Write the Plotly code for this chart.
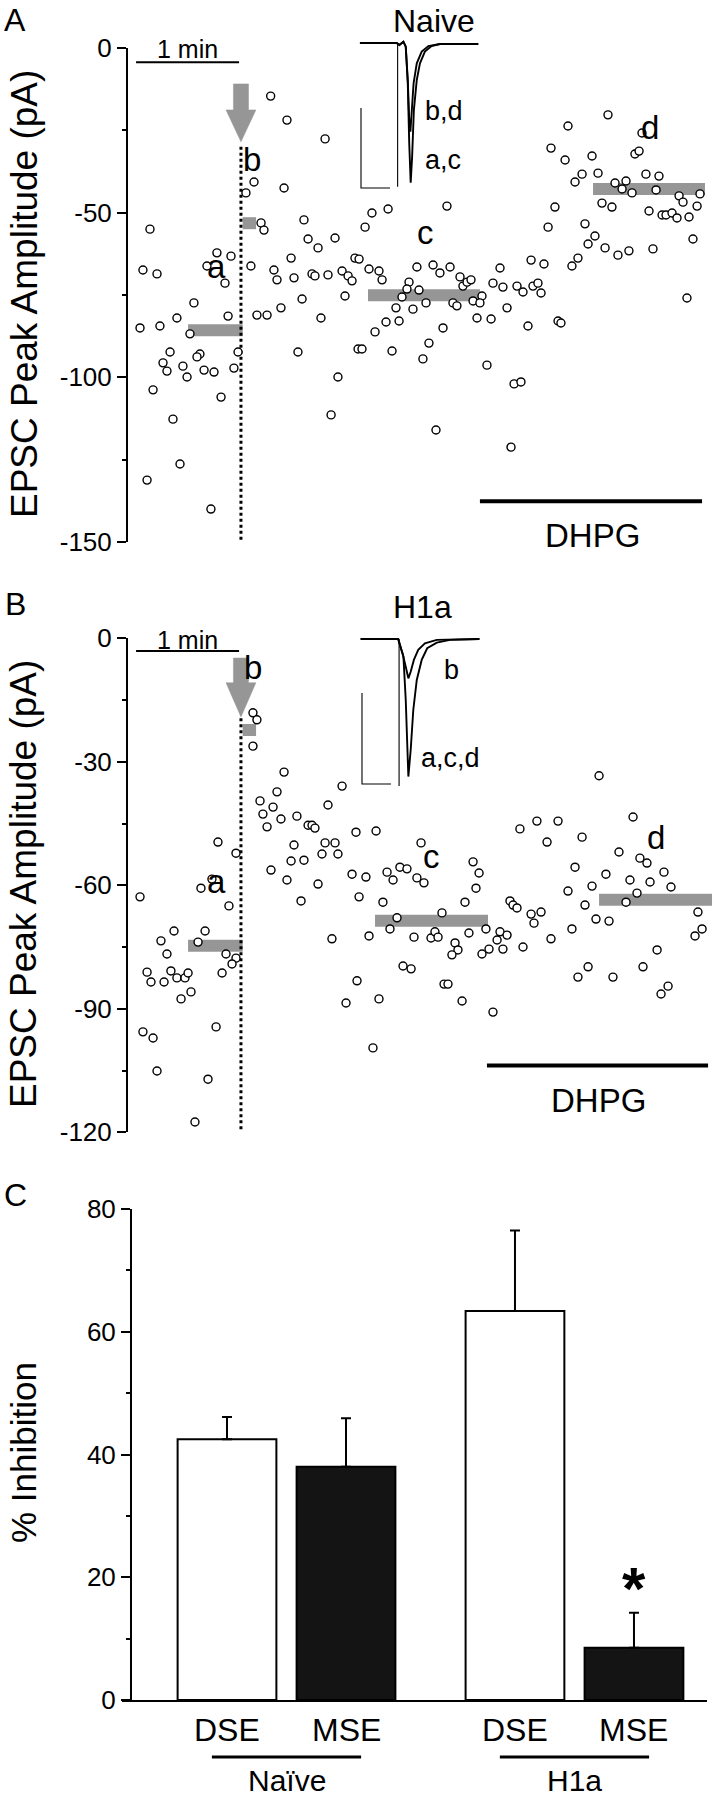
import plotly.graph_objects as go

W, H = 713, 1800
FONT = "Liberation Sans, Arial, Helvetica, sans-serif"


def PX(x):
    return x / W


def PY(y):
    return 1 - y / H


# ---------------- Panel A : Naive (time in s, EPSC amplitude in pA) ----------------
naive_time_s = [83.1, 92.6, 114.8, 73.4, 68.7, 90.9, 102.5, 77.5, 79.2, 12.8, 104.9, 120.6, 110.7, 51.8,
                60.0, 95.0, 132.2, 46.0, 71.6, 8.7, 16.9, 85.0, 86.8, 56.5, 96.7, 107.2, 108.9, 116.5,
                124.7, 128.2, 130.5, 126.4, 101.4, 38.4, 89.1, 75.1, 81.0, 58.3, 28.5, 112.4, 7.0, 18.6,
                36.1, 64.1, 24.5, 99.0, 134.0, 41.9, 40.2, 20.4, 32.0, 22.7, 44.3, 50.1, 61.7, 34.4,
                122.3, 14.6, 54.2, 26.2, 118.3, 30.3, 11.1, 48.3, 279.6, 256.3, 299.4, 246.4, 254.6,
                270.3, 295.3, 297.7, 264.5, 260.4, 273.8, 301.7, 309.3, 283.7, 290.1, 287.8, 293.6,
                307.6, 321.0, 333.2, 323.3, 276.1, 281.9, 248.7, 331.5, 303.5, 311.1, 313.4, 316.9,
                319.8, 326.8, 244.7, 266.2, 272.0, 268.0, 277.9, 285.4, 291.8, 305.8, 329.1, 262.1,
                258.6, 234.8, 242.3, 216.7, 212.6, 218.4, 226.6, 230.1, 235.9, 238.8, 240.6, 142.1,
                151.5, 138.1, 185.8, 134.6, 140.4, 146.2, 148.0, 168.3, 177.7, 181.7, 187.6, 163.7,
                162.5, 169.5, 193.4, 195.1, 197.5, 199.8, 159.6, 325.6, 206.2, 156.1, 166.0, 173.6,
                189.3, 191.6, 201.0, 205.0, 150.3, 157.9, 143.9, 136.3, 153.8, 175.3, 171.8, 183.5,
                203.3, 211.5, 220.8, 233.0, 250.5, 252.2, 209.1, 224.9, 228.9, 179.4, 223.1]
naive_amp_pA = [-14.6, -21.9, -27.6, -40.7, -44.0, -42.5, -52.2, -53.1, -55.3, -55.0, -58.0, -57.7, -60.7,
                -62.2, -63.2, -63.8, -63.8, -66.2, -66.2, -67.4, -68.6, -67.4, -70.4, -71.4, -69.8,
                -68.6, -69.2, -68.9, -67.7, -69.2, -70.7, -75.3, -76.2, -77.4, -78.9, -81.1, -81.1,
                -81.4, -82.0, -82.0, -85.0, -84.4, -86.8, -92.3, -92.3, -92.3, -91.4, -92.9, -93.8,
                -95.6, -96.6, -98.1, -97.8, -98.4, -97.2, -99.9, -99.9, -103.8, -106.0, -112.7,
                -111.4, -126.3, -131.2, -140.0, -20.3, -23.7, -25.8, -30.4, -34.0, -32.8, -32.2,
                -31.3, -38.3, -40.7, -38.0, -38.3, -38.9, -41.0, -40.4, -42.8, -44.0, -43.1, -44.9,
                -44.3, -46.8, -47.1, -48.3, -48.3, -48.0, -49.5, -50.7, -50.7, -50.1, -51.6, -51.3,
                -54.4, -53.4, -57.1, -59.5, -60.7, -62.9, -61.6, -61.0, -58.0, -63.8, -66.2, -64.4,
                -65.6, -66.8, -71.4, -72.6, -72.3, -74.1, -72.3, -71.4, -74.4, -50.1, -48.9, -54.4,
                -48.0, -64.1, -67.1, -67.7, -70.4, -66.5, -65.9, -68.3, -66.5, -71.1, -73.2, -73.5,
                -69.5, -72.3, -71.1, -70.4, -75.6, -75.9, -75.3, -78.9, -79.3, -77.4, -77.4, -78.3,
                -76.8, -77.4, -83.2, -82.9, -86.2, -91.4, -92.0, -89.6, -94.4, -85.0, -82.0, -82.3,
                -78.9, -84.4, -82.9, -83.5, -96.3, -102.0, -101.4, -116.0, -121.2]

# mean bars for epochs a, b, c, d
epoch_labels = ["a", "b", "c", "d"]
naive_epoch_start_s = [35.0, 66.8, 139.8, 270.9]
naive_epoch_end_s = [66.8, 74.6, 205.0, 336.1]
naive_epoch_mean_pA = [-85.7, -53.2, -75.1, -42.8]

# ---------------- Panel B : H1a ----------------
h1a_time_s = [72.8, 75.1, 72.8, 90.9, 124.7, 86.8, 76.9, 84.5, 116.5, 78.6, 89.1, 98.4, 81.0, 104.9,
              107.2, 108.9, 132.8, 52.4, 96.7, 114.8, 120.6, 113.0, 122.3, 62.9, 95.0, 102.5, 83.3,
              92.6, 110.7, 130.5, 134.6, 100.8, 7.0, 42.5, 48.9, 58.8, 26.8, 44.9, 19.2, 40.8, 22.7,
              57.1, 62.9, 60.6, 118.8, 11.1, 13.4, 25.0, 28.5, 33.2, 35.0, 21.0, 54.8, 36.7, 30.9,
              133.4, 127.0, 51.3, 8.7, 14.6, 16.9, 46.6, 39.0, 138.6, 150.9, 154.4, 158.4, 162.5,
              168.3, 172.4, 170.7, 201.0, 204.5, 202.7, 148.5, 196.3, 182.9, 156.7, 152.6, 140.4,
              166.6, 176.5, 178.8, 180.6, 190.5, 192.2, 188.7, 198.6, 208.5, 216.7, 220.8, 215.0,
              210.3, 206.2, 218.4, 230.1, 222.5, 224.3, 226.6, 234.8, 240.6, 236.5, 246.4, 160.2,
              164.9, 146.2, 184.1, 186.4, 194.6, 212.6, 142.7, 256.3, 260.4, 270.3, 278.4, 266.2,
              272.6, 280.2, 258.6, 286.0, 292.4, 298.2, 302.3, 304.1, 312.2, 316.3, 296.5, 290.1,
              332.0, 334.4, 330.3, 308.2, 300.0, 268.0, 262.1, 282.5, 314.6, 310.5, 274.4, 144.5,
              228.3, 238.2, 250.5, 244.1, 264.5, 294.2]
h1a_amp_pA = [-18.1, -19.8, -26.2, -32.5, -35.9, -37.3, -39.5, -41.0, -40.5, -42.7, -43.9, -43.2, -45.8,
              -45.4, -45.4, -46.1, -47.1, -49.5, -50.2, -49.7, -49.7, -52.4, -52.4, -52.2, -54.1,
              -53.9, -56.3, -58.7, -59.7, -57.3, -62.8, -63.8, -62.8, -60.7, -58.5, -65.0, -71.1,
              -71.1, -73.5, -73.8, -76.7, -76.7, -77.7, -79.1, -73.0, -81.1, -83.5, -80.8, -82.5,
              -82.5, -81.3, -83.5, -81.3, -85.9, -87.6, -83.2, -88.6, -94.4, -95.6, -97.1, -105.1,
              -107.1, -117.5, -58.0, -56.8, -58.7, -55.6, -56.0, -58.2, -59.4, -49.7, -54.3, -57.0,
              -60.7, -64.1, -64.1, -66.7, -67.9, -70.6, -72.3, -72.6, -72.8, -71.3, -72.6, -74.0,
              -75.7, -76.9, -71.6, -70.6, -71.3, -72.1, -73.3, -75.5, -76.7, -75.5, -75.0, -63.8,
              -64.8, -65.5, -67.0, -66.5, -69.2, -73.0, -79.6, -80.3, -87.6, -84.0, -84.0, -88.1,
              -90.8, -99.5, -61.4, -55.6, -60.2, -57.3, -64.8, -68.2, -68.7, -70.6, -51.9, -58.7,
              -53.4, -54.6, -59.2, -56.8, -60.4, -61.9, -64.1, -66.5, -70.6, -72.3, -75.7, -79.8,
              -79.8, -82.3, -82.3, -84.5, -86.4, -33.4, -46.8, -46.3, -44.4, -44.4, -49.5, -48.3,
              -43.4]

h1a_epoch_start_s = [35.0, 66.8, 143.9, 274.4]
h1a_epoch_end_s = [66.8, 74.6, 209.7, 340.2]
h1a_epoch_mean_pA = [-74.7, -22.3, -68.6, -63.5]

# protocol annotations
stim_time_s = 65.8            # depolarisation (arrow / dotted line)
scale_bar_start_s = 4.7
scale_bar_len_s = 60          # 1 min
naive_dhpg_s = [205.0, 334.4]
h1a_dhpg_s = [209.1, 337.9]

# ---------------- Inset traces (ms, pA) ----------------
naive_ac_ms = [1.7, 14.4, 15.3, 16.7, 17.5, 18.2, 18.7, 19.2, 19.7, 20.3, 21.3, 22.4, 24.1, 26.4, 29.3, 42.5]
naive_ac_pA = [0, 0, -1.3, 0.8, -2.3, -25.2, -62.7, -87.3, -71.0, -41.9, -23.1, -12.7, -5.4, -1.9, -0.6, -0.6]
naive_bd_ms = [1.7, 14.4, 15.3, 16.7, 17.5, 18.2, 18.7, 19.1, 19.6, 20.2, 21.3, 23.0, 25.3, 29.3, 42.5]
naive_bd_pA = [0, 0, -1.3, 0.8, -2.3, -23.1, -48.1, -55.4, -41.9, -25.2, -12.7, -5.4, -1.9, -0.6, -0.6]
naive_artifact_ms = 14.7
naive_artifact_pA = -89.8

h1a_acd_ms = [1.95, 14.9, 15.5, 16.7, 17.5, 18.4, 19.2, 20.1, 21.3, 23.0, 24.9, 28.2, 32.8, 42.9]
h1a_acd_pA = [0, 0, -3.3, -9.7, -33.5, -75.6, -61.0, -39.0, -22.5, -11.5, -5.1, -2.0, -0.5, 0]
h1a_b_ms = [1.95, 14.9, 15.5, 16.4, 17.5, 18.4, 19.2, 20.3, 21.8, 24.1, 28.2, 42.9]
h1a_b_pA = [0, 0, -3.3, -7.9, -15.2, -21.6, -18.0, -11.5, -6.0, -2.4, -0.5, 0]
h1a_artifact_ms = 15.2
h1a_artifact_pA = -80.8

inset_scale_ms = 10
inset_scale_pA = 50

# ---------------- Panel C : % inhibition ----------------
bar_labels = ["DSE", "MSE", "DSE", "MSE"]
bar_groups = ["Naïve", "H1a"]
bar_pos = [0, 1, 2.42, 3.42]
bar_mean = [42.5, 38.0, 63.4, 8.5]
bar_sem = [3.6, 7.9, 13.1, 5.7]
bar_fill = ["white", "#141414", "white", "#141414"]

# axis ticks
a_ticks = [-150, -100, -50, 0]
a_minor = [-125, -75, -25]
b_ticks = [-120, -90, -60, -30, 0]
b_minor = [-105, -75, -45, -15]
c_ticks = [0, 20, 40, 60, 80]
c_minor = [10, 30, 50, 70]

GRAY = "#969696"

fig = go.Figure()


def add_panel(xa, ya, t, amp, e_start, e_end, e_mean, dhpg, dhpg_y, arrow_y, dot_y, onemin_y):
    # epoch mean bars (drawn below the points)
    for s, e, m in zip(e_start, e_end, e_mean):
        fig.add_trace(go.Scatter(x=[s, e], y=[m, m], mode="lines", xaxis=xa, yaxis=ya,
                                 line=dict(color=GRAY, width=12),
                                 hoverinfo="skip", showlegend=False))
    # DHPG bar
    fig.add_trace(go.Scatter(x=dhpg, y=[dhpg_y, dhpg_y], mode="lines", xaxis=xa, yaxis=ya,
                             line=dict(color="black", width=4), hoverinfo="skip", showlegend=False))
    # 1-min scale bar
    fig.add_trace(go.Scatter(x=[scale_bar_start_s, scale_bar_start_s + scale_bar_len_s],
                             y=[onemin_y, onemin_y], mode="lines", xaxis=xa, yaxis=ya,
                             line=dict(color="black", width=2), hoverinfo="skip", showlegend=False))
    # dotted line at the depolarisation
    fig.add_trace(go.Scatter(x=[stim_time_s, stim_time_s], y=dot_y, mode="lines", xaxis=xa, yaxis=ya,
                             line=dict(color="black", width=3, dash="dot"), hoverinfo="skip",
                             showlegend=False))
    # grey arrow
    top, neck, tip = arrow_y
    sw, hw = 4.4, 8.7
    ax = [stim_time_s - sw, stim_time_s + sw, stim_time_s + sw, stim_time_s + hw, stim_time_s,
          stim_time_s - hw, stim_time_s - sw, stim_time_s - sw]
    ay = [top, top, neck, neck, tip, neck, neck, top]
    fig.add_trace(go.Scatter(x=ax, y=ay, mode="lines", fill="toself", fillcolor=GRAY, xaxis=xa, yaxis=ya,
                             line=dict(color=GRAY, width=0.5), hoverinfo="skip", showlegend=False))
    # data points
    fig.add_trace(go.Scatter(x=t, y=amp, mode="markers", xaxis=xa, yaxis=ya, cliponaxis=False,
                             marker=dict(symbol="circle", size=8, color="white",
                                         line=dict(color="black", width=1.4)),
                             showlegend=False))


add_panel("x", "y", naive_time_s, naive_amp_pA, naive_epoch_start_s, naive_epoch_end_s,
          naive_epoch_mean_pA, naive_dhpg_s, -137.6, (-10.9, -18.8, -28.5), [-30, -150], -4.3)
add_panel("x2", "y2", h1a_time_s, h1a_amp_pA, h1a_epoch_start_s, h1a_epoch_end_s,
          h1a_epoch_mean_pA, h1a_dhpg_s, -103.8, (-4.8, -10.8, -19.1), [-19.4, -120], -3.1)


def add_inset(xa, ya, traces, art_ms, art_pA, bar_origin):
    for ms, pa in traces:
        fig.add_trace(go.Scatter(x=ms, y=pa, mode="lines", xaxis=xa, yaxis=ya,
                                 line=dict(color="black", width=1.9), hoverinfo="skip", showlegend=False))
    fig.add_trace(go.Scatter(x=[art_ms, art_ms], y=[0, art_pA], mode="lines", xaxis=xa, yaxis=ya,
                             line=dict(color="black", width=1.1), hoverinfo="skip", showlegend=False))
    x0, y0 = bar_origin
    fig.add_trace(go.Scatter(x=[x0, x0, x0 + inset_scale_ms], y=[y0 + inset_scale_pA, y0, y0],
                             mode="lines", xaxis=xa, yaxis=ya,
                             line=dict(color="black", width=1.1), hoverinfo="skip", showlegend=False))


add_inset("x4", "y4", [(naive_ac_ms, naive_ac_pA), (naive_bd_ms, naive_bd_pA)],
          naive_artifact_ms, naive_artifact_pA, (2.07, -90.6))
add_inset("x5", "y5", [(h1a_acd_ms, h1a_acd_pA), (h1a_b_ms, h1a_b_pA)],
          h1a_artifact_ms, h1a_artifact_pA, (2.41, -79.7))

# Panel C bars
fig.add_trace(go.Bar(x=bar_pos, y=bar_mean, width=0.83, xaxis="x3", yaxis="y3",
                     marker=dict(color=bar_fill, line=dict(color="black", width=2)),
                     error_y=dict(type="data", symmetric=False, array=bar_sem,
                                  arrayminus=[0] * len(bar_sem), color="black", thickness=2, width=5),
                     showlegend=False))

tickfont = dict(family=FONT, size=26, color="black")
ycommon = dict(showline=True, linecolor="black", linewidth=2, ticks="outside", ticklen=9, tickwidth=2,
               tickcolor="black", showgrid=False, zeroline=False, tickfont=tickfont, fixedrange=True)
xhidden = dict(visible=False, showgrid=False, zeroline=False, fixedrange=True)


def minor(vals):
    return dict(tickvals=vals, ticks="outside", ticklen=4, tickwidth=2, tickcolor="black", showgrid=False)


def labels(vals):
    return [str(v) for v in vals]


x_dom = [PX(128), 1.0]
x_rng = [0, (W - 128) / 1.7167]

fig.update_layout(
    width=W, height=H, autosize=False,
    margin=dict(l=0, r=0, t=0, b=0, autoexpand=False),
    paper_bgcolor="white", plot_bgcolor="rgba(0,0,0,0)",
    showlegend=False,
    font=dict(family=FONT, color="black"),
    xaxis=dict(domain=x_dom, range=x_rng, anchor="y", **xhidden),
    yaxis=dict(domain=[PY(542), PY(48)], range=[-150, 0], anchor="x",
               tickvals=a_ticks, ticktext=labels(a_ticks), minor=minor(a_minor), **ycommon),
    xaxis2=dict(domain=x_dom, range=x_rng, anchor="y2", **xhidden),
    yaxis2=dict(domain=[PY(1132.3), PY(638.3)], range=[-120, 0], anchor="x2",
                tickvals=b_ticks, ticktext=labels(b_ticks), minor=minor(b_minor), **ycommon),
    xaxis3=dict(domain=[PX(122), PX(707)], range=[(122 - 227) / 119, (707 - 227) / 119], anchor="y3",
                showline=True, linecolor="black", linewidth=2, ticks="", showticklabels=False,
                showgrid=False, zeroline=False, fixedrange=True),
    yaxis3=dict(domain=[PY(1700), PY(1209)], range=[0, 80], anchor="free", position=PX(131),
                tickvals=c_ticks, ticktext=labels(c_ticks), minor=minor(c_minor), **ycommon),
    xaxis4=dict(domain=[PX(355), PX(485)], range=[0, 130 / 2.9], anchor="y4", **xhidden),
    yaxis4=dict(domain=[PY(200), PY(35)], range=[-(200 - 43) / 1.6, (43 - 35) / 1.6], anchor="x4",
                **xhidden),
    xaxis5=dict(domain=[PX(355), PX(485)], range=[0, 130 / 2.9], anchor="y5", **xhidden),
    yaxis5=dict(domain=[PY(795), PY(628)], range=[-(795 - 639) / 1.82, (639 - 628) / 1.82], anchor="x5",
                **xhidden),
)


def ann(text, x, y, xref, yref, size, **kw):
    d = dict(text=text, x=x, y=y, xref=xref, yref=yref, showarrow=False,
             font=dict(family=FONT, size=size, color="black"), xanchor="center", yanchor="middle")
    d.update(kw)
    return d


annots = [
    # panel letters
    ann("A", PX(14.5), PY(20), "paper", "paper", 32),
    ann("B", PX(15), PY(604), "paper", "paper", 32),
    ann("C", PX(15), PY(1195), "paper", "paper", 32),
    # y titles
    ann("EPSC Peak Amplitude (pA)", PX(24), PY(294), "paper", "paper", 37, textangle=-90),
    ann("EPSC Peak Amplitude (pA)", PX(24), PY(884), "paper", "paper", 37, textangle=-90),
    ann("% Inhibition", PX(23), PY(1453), "paper", "paper", 35, textangle=-90),
    # inset titles
    ann("Naive", PX(433.5), PY(1), "paper", "paper", 32, yanchor="top"),
    ann("H1a", PX(422), PY(607), "paper", "paper", 32),
    # 1 min labels
    ann("1 min", scale_bar_start_s + scale_bar_len_s / 2, -0.3, "x", "y", 25),
    ann("1 min", scale_bar_start_s + scale_bar_len_s / 2, -0.4, "x2", "y2", 25),
    # DHPG labels
    ann("DHPG", sum(naive_dhpg_s) / 2 + 0.6, -147.9, "x", "y", 33),
    ann("DHPG", sum(h1a_dhpg_s) / 2 + 0.3, -112.2, "x2", "y2", 33),
    # epoch letters panel A
    ann("a", 51.3, -66.2, "x", "y", 33),
    ann("b", 72.5, -33.9, "x", "y", 33),
    ann("c", 173.3, -55.9, "x", "y", 33),
    ann("d", 304.1, -24.1, "x", "y", 33),
    # epoch letters panel B
    ann("a", 51.3, -59.0, "x2", "y2", 33),
    ann("b", 73.1, -7.1, "x2", "y2", 33),
    ann("c", 176.5, -53.1, "x2", "y2", 33),
    ann("d", 307.6, -48.4, "x2", "y2", 33),
    # inset trace labels
    ann("b,d", 23.4, -42.2, "x4", "y4", 27, xanchor="left"),
    ann("a,c", 23.6, -73.4, "x4", "y4", 27, xanchor="left"),
    ann("b", 29.9, -17.0, "x5", "y5", 27, xanchor="left"),
    ann("a,c,d", 22.2, -65.3, "x5", "y5", 27, xanchor="left"),
    # significance
    dict(text="<b>*</b>", x=bar_pos[3], y=18.2, xref="x3", yref="y3", showarrow=False,
         font=dict(family=FONT, size=60, color="black"), xanchor="center", yanchor="middle"),
]
for p, lab in zip(bar_pos, bar_labels):
    annots.append(ann(lab, p, PY(1730), "x3", "paper", 32))
group_centers = [(bar_pos[0] + bar_pos[1]) / 2, (bar_pos[2] + bar_pos[3]) / 2]
for c, g in zip(group_centers, bar_groups):
    annots.append(ann(g, c, PY(1799), "x3", "paper", 30, yanchor="bottom"))
fig.update_layout(annotations=annots)

shapes = []
for c in group_centers:
    shapes.append(dict(type="line", xref="x3", yref="paper", x0=c - 0.627, x1=c + 0.627,
                       y0=PY(1757), y1=PY(1757), line=dict(color="black", width=3)))
fig.update_layout(shapes=shapes)

fig.write_html("out.html", config={"displayModeBar": False},
               post_script="document.body.style.margin='0';document.body.style.overflow='hidden';")
